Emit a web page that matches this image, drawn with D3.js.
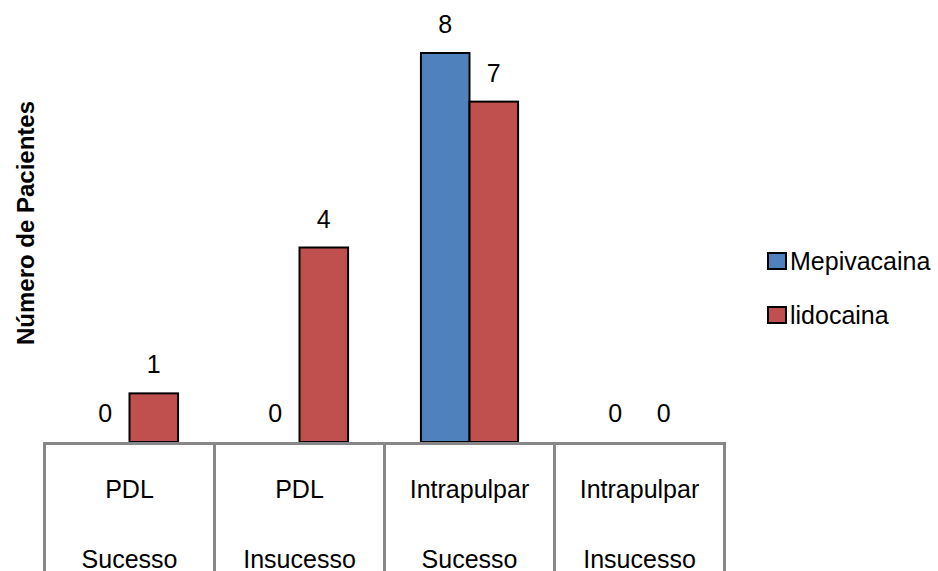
<!DOCTYPE html>
<html>
<head>
<meta charset="utf-8">
<script src="https://cdn.jsdelivr.net/npm/d3@7/dist/d3.min.js"></script>
<style>
  html, body { margin: 0; padding: 0; background: #fff; }
  svg { display: block; }
  text { font-family: "Liberation Sans", Arial, sans-serif; fill: #000; }
</style>
</head>
<body>
<svg id="chart" width="938" height="571"></svg>
<script>
// Patients per anaesthesia technique and outcome
const categories = [
  ["PDL", "Sucesso"],
  ["PDL", "Insucesso"],
  ["Intrapulpar", "Sucesso"],
  ["Intrapulpar", "Insucesso"]
];
const seriesNames = ["Mepivacaina", "lidocaina"];
const mepivacaina = [0, 0, 8, 0];
const lidocaina = [1, 4, 7, 0];
const seriesColors = ["#4F81BD", "#C0504D"];
const yTitle = "Número de Pacientes";

const svg = d3.select("#chart");
const baseY = 442;

const x0 = d3.scaleBand()
  .domain(d3.range(categories.length))
  .range([44.5, 724.5])
  .paddingInner(0).paddingOuter(0);

// two bars side by side, centred in each category
const x1 = d3.scaleBand()
  .domain(seriesNames)
  .range([0, x0.bandwidth()])
  .paddingInner(0)
  .paddingOuter(0.75);

const y = d3.scaleLinear().domain([0, 8]).range([baseY, 53]);

const rows = categories.map((c, i) => ({
  i,
  values: [mepivacaina[i], lidocaina[i]]
}));

// Bars
const groups = svg.append("g").selectAll("g")
  .data(rows).join("g")
  .attr("transform", d => `translate(${x0(d.i)},0)`);

groups.selectAll("rect")
  .data(d => d.values.map((v, k) => ({ v, k })).filter(e => e.v > 0))
  .join("rect")
  .attr("x", e => x1(seriesNames[e.k]))
  .attr("y", e => y(e.v))
  .attr("width", x1.bandwidth())
  .attr("height", e => y(0) - y(e.v))
  .attr("fill", e => seriesColors[e.k])
  .attr("stroke", "#000")
  .attr("stroke-width", 2);

// Value labels (including zeros)
groups.selectAll("text.val")
  .data(d => d.values.map((v, k) => ({ v, k })))
  .join("text")
  .attr("class", "val")
  .attr("x", e => x1(seriesNames[e.k]) + x1.bandwidth() / 2)
  .attr("y", e => y(e.v) - 20)
  .attr("text-anchor", "middle")
  .attr("font-size", 25)
  .text(e => e.v);

// Category axis drawn as a row of boxes
const axis = svg.append("g").attr("stroke", "#878787").attr("stroke-width", 3);
axis.append("line")
  .attr("x1", x0.range()[0] - 1.5).attr("x2", x0.range()[1] + 1.5)
  .attr("y1", baseY + 1.5).attr("y2", baseY + 1.5);
const edges = d3.range(categories.length + 1).map(i =>
  i < categories.length ? x0(i) : x0.range()[1]);
axis.selectAll("line.div")
  .data(edges).join("line")
  .attr("class", "div")
  .attr("x1", d => d).attr("x2", d => d)
  .attr("y1", baseY + 1.5).attr("y2", 575);

const catLabels = svg.append("g").selectAll("g")
  .data(categories).join("g")
  .attr("transform", (d, i) => `translate(${x0(i) + x0.bandwidth() / 2},0)`);
catLabels.append("text")
  .attr("y", 498).attr("text-anchor", "middle").attr("font-size", 25)
  .text(d => d[0]);
catLabels.append("text")
  .attr("y", 568).attr("text-anchor", "middle").attr("font-size", 25)
  .text(d => d[1]);

// Y axis title
svg.append("text")
  .attr("transform", "translate(34,223) rotate(-90)")
  .attr("text-anchor", "middle")
  .attr("font-size", 24)
  .attr("font-weight", "bold")
  .text(yTitle);

// Legend
const legend = svg.append("g").selectAll("g")
  .data(seriesNames).join("g")
  .attr("transform", (d, i) => `translate(767,${252 + i * 54})`);
legend.append("rect")
  .attr("x", 1).attr("y", 1).attr("width", 18).attr("height", 16)
  .attr("fill", (d, i) => seriesColors[i])
  .attr("stroke", "#000").attr("stroke-width", 2);
legend.append("text")
  .attr("x", 23).attr("y", 18)
  .attr("font-size", 25)
  .text(d => d);
</script>
</body>
</html>
